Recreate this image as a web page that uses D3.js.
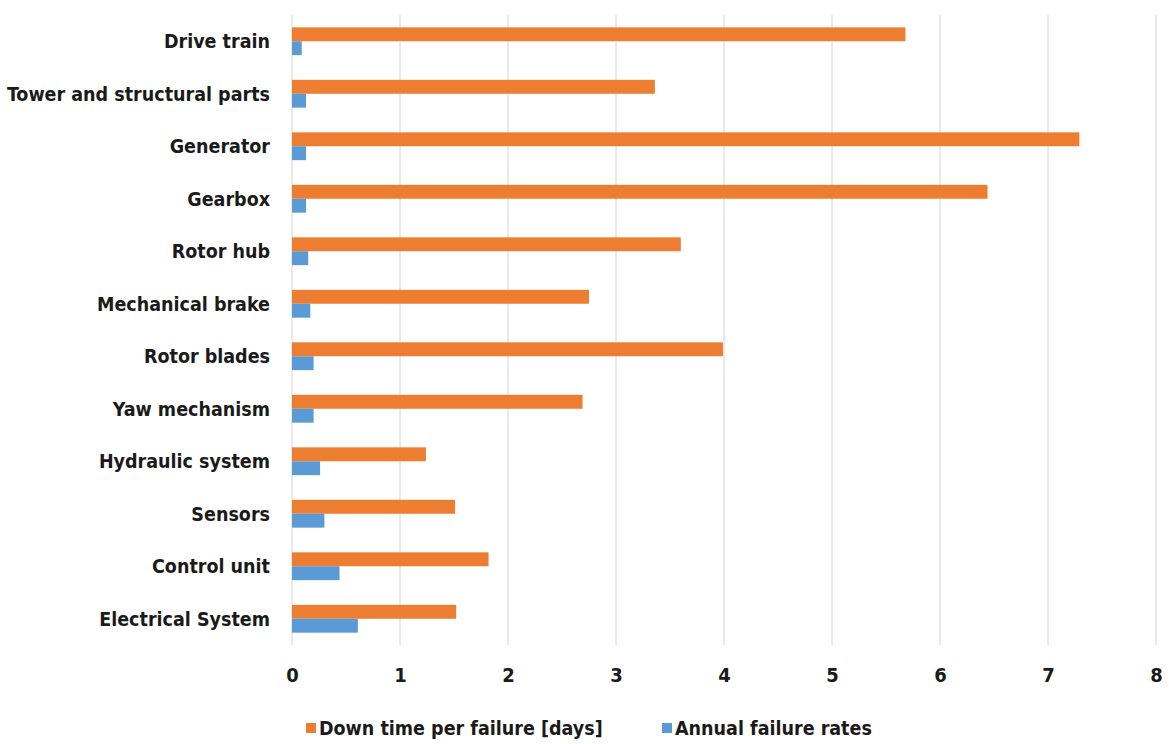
<!DOCTYPE html>
<html>
<head>
  <meta charset="utf-8">
  <script src="https://cdn.jsdelivr.net/npm/d3@7/dist/d3.min.js"></script>
  <title>Down time and failure rates</title>
  <style>
    body { margin: 0; background: #fff; }
    text { font-family: "Liberation Sans Narrow", "DejaVu Sans Condensed", "Roboto", sans-serif; font-weight: bold; fill: #1a1a1a; }
  </style>
</head>
<body>
<script>
  // components, top to bottom
  const components = ["Drive train", "Tower and structural parts", "Generator", "Gearbox",
    "Rotor hub", "Mechanical brake", "Rotor blades", "Yaw mechanism",
    "Hydraulic system", "Sensors", "Control unit", "Electrical System"];
  const downTime = [5.68, 3.36, 7.29, 6.44, 3.60, 2.75, 3.99, 2.69, 1.24, 1.51, 1.82, 1.52];
  const failureRate = [0.09, 0.13, 0.13, 0.13, 0.15, 0.17, 0.20, 0.20, 0.26, 0.30, 0.44, 0.61];
  const seriesNames = ["Down time per failure [days]", "Annual failure rates"];
  const xTicks = [0, 1, 2, 3, 4, 5, 6, 7, 8];

  const w = 1169, h = 744;
  const padL = 292, padR = 1156, padT = 15, padB = 645;
  const colors = ["#ED7D31", "#5B9BD5"];

  const svg = d3.select("body").append("svg")
    .attr("width", w)
    .attr("height", h);

  const x = d3.scaleLinear().domain([0, 8]).range([padL, padR]);
  const y = d3.scaleBand().domain(components).range([padT, padB]).paddingInner(0.47).paddingOuter(0.235);
  const sub = d3.scaleBand().domain([0, 1]).range([0, y.bandwidth()]);

  // gridlines
  svg.append("g").selectAll("line")
    .data(xTicks)
    .enter().append("line")
    .attr("x1", d => x(d)).attr("x2", d => x(d))
    .attr("y1", padT).attr("y2", padB)
    .attr("stroke", "#d4d4d4")
    .attr("stroke-width", 1);

  const rows = components.map((c, i) => ({ c: c, vals: [downTime[i], failureRate[i]] }));

  const g = svg.append("g").selectAll("g")
    .data(rows)
    .enter().append("g")
    .attr("transform", d => "translate(0," + y(d.c) + ")");

  g.selectAll("rect")
    .data(d => d.vals)
    .enter().append("rect")
    .attr("x", x(0))
    .attr("y", (d, i) => sub(i))
    .attr("width", d => x(d) - x(0))
    .attr("height", sub.bandwidth())
    .attr("fill", (d, i) => colors[i]);

  // category labels
  svg.append("g").selectAll("text")
    .data(components)
    .enter().append("text")
    .attr("x", 270)
    .attr("y", d => y(d) + y.bandwidth() / 2)
    .attr("dy", "0.35em")
    .attr("text-anchor", "end")
    .style("font-size", "19.5px")
    .text(d => d);

  // x axis
  const xAxis = d3.axisBottom(x).tickValues(xTicks).tickSize(0).tickPadding(0);
  const ax = svg.append("g")
    .attr("transform", "translate(0," + padB + ")")
    .call(xAxis);
  ax.select(".domain").remove();
  ax.selectAll("text")
    .attr("y", 30)
    .attr("dy", "0.35em")
    .style("font-size", "20px")
    .style("fill", "#1a1a1a");

  // legend
  const legendX = [306, 662];
  const leg = svg.append("g").selectAll("g")
    .data(seriesNames)
    .enter().append("g")
    .attr("transform", (d, i) => "translate(" + legendX[i] + ",728)");
  leg.append("rect")
    .attr("x", 0).attr("y", -5)
    .attr("width", 10).attr("height", 10)
    .attr("fill", (d, i) => colors[i]);
  leg.append("text")
    .attr("x", 13)
    .attr("dy", "0.35em")
    .style("font-size", "19.5px")
    .text(d => d);
</script>
</body>
</html>
